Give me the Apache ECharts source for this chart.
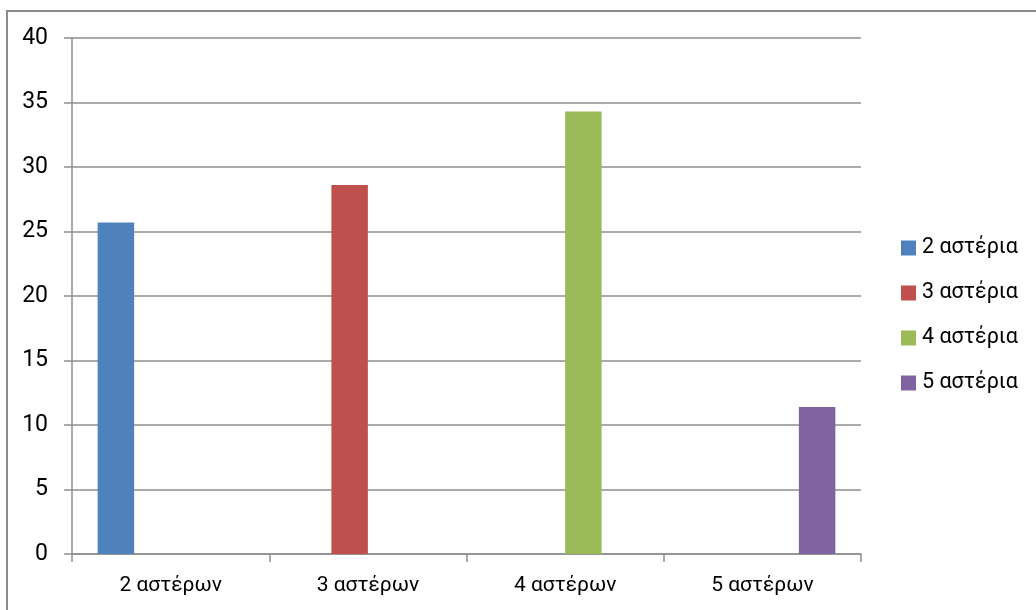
<!DOCTYPE html>
<html>
<head>
<meta charset="utf-8">
<script src="https://cdn.jsdelivr.net/npm/echarts@6/dist/echarts.min.js"></script>
<style>
html,body{margin:0;padding:0;background:#fff;}
#chart{width:1036px;height:610px;}
</style>
</head>
<body>
<div id="chart"></div>
<script>
const categories = ['2 αστέρων', '3 αστέρων', '4 αστέρων', '5 αστέρων'];
const seriesNames = ['2 αστέρια', '3 αστέρια', '4 αστέρια', '5 αστέρια'];
const values = [25.7, 28.6, 34.3, 11.4];
const colors = ['#4F81BD', '#C0504D', '#9BBB59', '#8064A2'];
const yTicks = [0, 5, 10, 15, 20, 25, 30, 35, 40];

const FONT = 'Roboto, "Liberation Sans", sans-serif';

const series = seriesNames.map((name, i) => ({
  name: name,
  type: 'bar',
  data: categories.map((c, j) => (j === i ? values[i] : null)),
  itemStyle: { color: colors[i] },
  barGap: '0%',
  barCategoryGap: '26%'
}));

const chart = echarts.init(document.getElementById('chart'));
chart.setOption({
  animation: false,
  backgroundColor: '#fff',
  textStyle: { fontFamily: FONT },
  graphic: [{
    type: 'rect',
    shape: { x: 7, y: 11, width: 1040, height: 610 },
    style: { fill: 'none', stroke: '#8c8c8c', lineWidth: 2 },
    silent: true
  }],
  grid: { left: 72, top: 38, right: 175, bottom: 56, containLabel: false },
  legend: {
    orient: 'vertical',
    left: 901,
    top: 237,
    padding: 0,
    icon: 'rect',
    itemWidth: 15,
    itemHeight: 15,
    itemGap: 23,
    textStyle: { fontFamily: FONT, fontSize: 21.5, color: '#000', padding: [0, 0, 0, 1] },
    data: seriesNames
  },
  xAxis: {
    type: 'category',
    data: categories,
    axisLine: { lineStyle: { color: '#8e8e8e', width: 1.5 } },
    axisTick: { show: true, length: 8, lineStyle: { color: '#8e8e8e', width: 1.5 } },
    axisLabel: { fontFamily: FONT, fontSize: 21, color: '#000', margin: 21 },
    splitLine: { show: false }
  },
  yAxis: {
    type: 'value',
    min: yTicks[0],
    max: yTicks[yTicks.length - 1],
    interval: 5,
    axisLine: { show: true, lineStyle: { color: '#8e8e8e', width: 1.5 } },
    axisTick: { show: true, length: 8, lineStyle: { color: '#8e8e8e', width: 1.5 } },
    axisLabel: { fontFamily: FONT, fontSize: 23, color: '#000', margin: 24 },
    splitLine: { show: true, lineStyle: { color: '#8e8e8e', width: 1.5 } }
  },
  series: series
});
</script>
</body>
</html>
